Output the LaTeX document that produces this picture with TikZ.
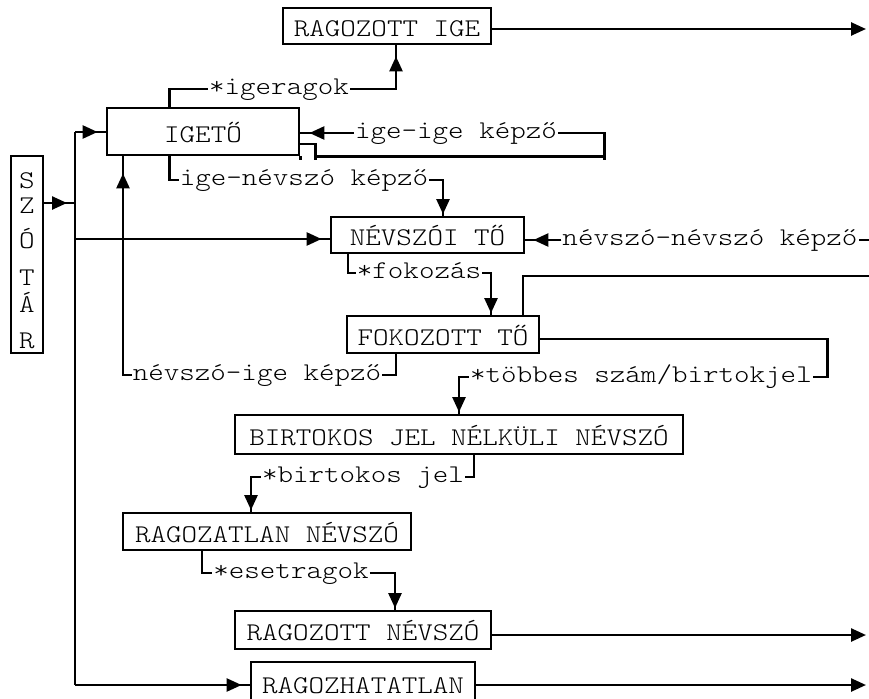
\documentclass[tikz,border=0pt]{standalone}
\usepackage{fontspec}
\newfontfamily\monofam{lmmonolt10-regular}[Extension=.otf,FakeStretch=1.16]
\usetikzlibrary{arrows.meta}
\newcommand\dfont{\monofam\fontsize{25.5}{30}\selectfont}
\tikzset{
  con/.style={line width=2.5pt},
  tipa/.style={-{Triangle[length=15pt,width=13pt]}},
  tipgap/.style={postaction={draw,line width=2.5pt,tipa,shorten >=#1}},
  boxn/.style={draw,line width=2.8pt,inner sep=0pt,font=\dfont,text height=21.6pt,text depth=0pt},
  lbl/.style={font=\dfont,inner xsep=1pt,inner ysep=0pt,text height=20pt,text depth=9pt},
  lett/.style={font=\dfont,inner sep=0pt,text height=15.6pt,text depth=0pt}
}
\begin{document}
\begin{tikzpicture}[x=1pt,y=-1pt]
\useasboundingbox (0,0) rectangle (869,698);
\clip (0,0) rectangle (869,698);
% boxes
\node[boxn,minimum width=208pt,minimum height=36pt] (rige) at (387,26) {RAGOZOTT IGE};
\node[boxn,minimum width=192pt,minimum height=47pt] (igeto) at (203,131.5) {IGETŐ};
\node[boxn,minimum width=32pt,minimum height=197pt] (szotar) at (27,254.5) {};
\node[boxn,minimum width=193pt,minimum height=36pt] (nevto) at (427.5,235) {NÉVSZÓI TŐ};
\node[boxn,minimum width=192pt,minimum height=37pt] (fokto) at (443,334.5) {FOKOZOTT TŐ};
\node[boxn,minimum width=448pt,minimum height=39pt] (birt) at (459,434.5) {BIRTOKOS JEL NÉLKÜLI NÉVSZÓ};
\node[boxn,minimum width=288pt,minimum height=37pt] (ragtlan) at (267,531.5) {RAGOZATLAN NÉVSZÓ};
\node[boxn,minimum width=256pt,minimum height=38pt] (ragnev) at (363,630) {RAGOZOTT NÉVSZÓ};
\node[boxn,minimum width=224pt,minimum height=41pt] (ragh) at (363,682.5) {RAGOZHATATLAN};
% letters of SZOTAR
\node[lett] (s1) at (27,181) {S};
\node[lett] (s2) at (27,206) {Z};
\node[lett] (s3) at (27,240.5) {Ó};
\node[lett] (s4) at (27,277.5) {T};
\node[lett] (s5) at (27,305) {Á};
\node[lett] (s6) at (27,340.5) {R};
% labels
\node[lbl] (ligr) at (279,89) {*igeragok};
\node[lbl] (ligig) at (456,133) {ige–ige képző};
\node[lbl] (lign) at (304,180) {ige–névszó képző};
\node[lbl] (lnig) at (257,375) {névszó–ige képző};
\node[lbl] (lnn) at (710,240) {névszó–névszó képző};
\node[lbl] (lfok) at (419,273) {*fokozás};
\node[lbl] (ltobb) at (641,377) {*többes szám/birtokjel};
\node[lbl] (lbj) at (363,477) {*birtokos jel};
\node[lbl] (lesz) at (291,573) {*esetragok};
% free ends
\coordinate (out1) at (866,29);
\coordinate (busT) at (75,132);
\coordinate (busB) at (75,685);
\coordinate (in1) at (872,240);
\coordinate (out2) at (872,276);
\coordinate (out3) at (866,635);
\coordinate (out4) at (866,685);
% connectors
\draw[con,tipa] ([yshift=-3pt]rige.east) -- (out1);
\draw[con] ([xshift=64pt]igeto.north west) |- (ligr.west);
\draw[con,tipgap=11pt] (ligr.east) -| ([xshift=9pt]rige.south);
\draw[con] ([yshift=-12.5pt]igeto.east) -| ([xshift=15pt]igeto.south east) -- ([xshift=304pt]igeto.south east) |- (ligig.east);
\draw[con] ([xshift=15pt]igeto.south east) -- ++(0,4);
\draw[con] (igeto.south east) -- ++(0,4);
\draw[con] ([xshift=304pt]igeto.south east) -- ++(0,4);
\draw[con,tipgap=9pt] (ligig.west) -- (ligig.west -| igeto.east);
\draw[con] ([xshift=64pt]igeto.south west) |- (lign.west);
\draw[con,tipgap=1.5pt] (lign.east) -| ([xshift=15.5pt]nevto.north);
\draw[con,tipgap=8pt] ([yshift=51.5pt]szotar.east) -- ([yshift=51.5pt]szotar.east -| busT);
\draw[con] (busT) -- (busB);
\draw[con,tipgap=8pt] (busT) -- (busT -| igeto.west);
\draw[con,tipgap=8pt] ([yshift=-4pt]nevto.west -| busT) -- ([yshift=-4pt]nevto.west);
\draw[con,tipgap=8pt] (busB) -- (busB -| ragh.west);
\draw[con] ([xshift=-47pt]fokto.south) |- (lnig.east);
\draw[con,tipgap=17pt] (lnig.west) -| ([xshift=-80pt]igeto.south);
\draw[con] (in1) -- (lnn.east);
\draw[con,tipgap=8pt] (lnn.west) -- (lnn.west -| nevto.east);
\draw[con] ([xshift=-79.5pt]nevto.south) |- (lfok.west);
\draw[con,tipgap=1.5pt] (lfok.east) -| ([xshift=48pt]fokto.north);
\draw[con] ([xshift=80pt]fokto.north) |- (out2);
\draw[con] ([yshift=-4.5pt]fokto.east) -- ++(287,0) |- (ltobb.east);
\draw[con,tipgap=1.5pt] (ltobb.west) -| (birt.north);
\draw[con] ([xshift=15pt]birt.south) |- (lbj.east);
\draw[con,tipgap=1.5pt] (lbj.west) -| ([xshift=-16pt]ragtlan.north);
\draw[con] ([xshift=-65pt]ragtlan.south) |- (lesz.west);
\draw[con,tipgap=1.5pt] (lesz.east) -| ([xshift=32pt]ragnev.north);
\draw[con,tipa] ([yshift=-5pt]ragnev.east) -- (out3);
\draw[con,tipa] ([yshift=-2.5pt]ragh.east) -- (out4);
\end{tikzpicture}
\end{document}
